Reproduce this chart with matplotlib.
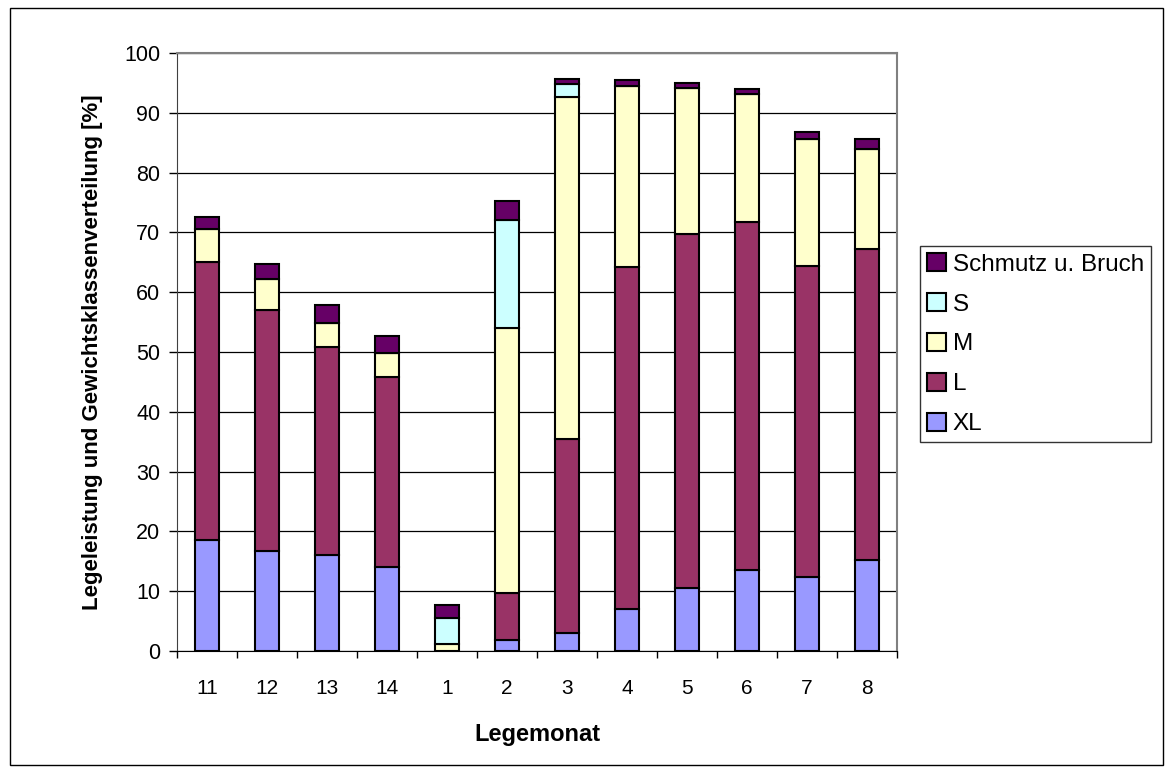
import numpy as np
import matplotlib.pyplot as plt
from matplotlib.patches import Rectangle

plt.rcParams['font.family'] = ['Liberation Sans', 'DejaVu Sans']

# Legemonat
months = ['11', '12', '13', '14', '1', '2', '3', '4', '5', '6', '7', '8']

# cumulative tops, converted to segment heights below
xl_top = [18.6, 16.8, 16.1, 14.1, 0.0, 1.9, 3.0, 7.0, 10.5, 13.5, 12.4, 15.2]
l_top = [65.0, 57.0, 50.8, 45.8, 0.0, 9.7, 35.5, 64.2, 69.7, 71.7, 64.3, 67.2]
m_top = [70.5, 62.2, 54.9, 49.8, 1.1, 54.0, 92.7, 94.5, 94.2, 93.1, 85.6, 83.9]
s_top = [70.5, 62.2, 54.9, 49.8, 5.6, 72.0, 94.8, 94.5, 94.2, 93.1, 85.6, 83.9]
total = [72.6, 64.7, 57.9, 52.6, 7.7, 75.3, 95.6, 95.5, 95.0, 94.0, 86.8, 85.6]

xl = np.array(xl_top)
l = np.array(l_top) - np.array(xl_top)
m = np.array(m_top) - np.array(l_top)
s = np.array(s_top) - np.array(m_top)
dirt = np.array(total) - np.array(s_top)

series = [('XL', xl, '#9999FF'),
          ('L', l, '#993366'),
          ('M', m, '#FFFFCC'),
          ('S', s, '#CCFFFF'),
          ('Schmutz u. Bruch', dirt, '#660066')]

fig = plt.figure(figsize=(11.73, 7.73), dpi=100)
ax = fig.add_axes([177/1173, 1-651/773, 720/1173, 598/773])

x = np.arange(len(months))
bottom = np.zeros(len(months))
handles = []
for name, vals, col in series:
    b = ax.bar(x, vals, 0.4, bottom=bottom, color=col, edgecolor='black',
               linewidth=1.5, label=name, zorder=3)
    handles.append(b)
    bottom = bottom + vals

ax.set_xlim(-0.5, len(months) - 0.5)
ax.set_ylim(0, 100)
ax.set_yticks(np.arange(0, 101, 10))
ax.yaxis.grid(True, color='black', linewidth=0.9, zorder=0)
ax.set_xticks(x)
ax.set_xticklabels(months, fontsize=15)
ax.set_xticks(np.arange(-0.5, len(months)), minor=True)
ax.tick_params(axis='x', which='major', length=0, pad=20)
ax.tick_params(axis='x', which='minor', length=5, width=1, color='black')
ax.tick_params(axis='y', labelsize=15.5, length=6, width=1, pad=6)

for side in ['top', 'right']:
    ax.spines[side].set_color('#808080')
    ax.spines[side].set_linewidth(1.5)
ax.spines['left'].set_color('#404040')
ax.spines['bottom'].set_color('black')

ax.set_xlabel('Legemonat', fontsize=17, fontweight='bold', labelpad=18)
ax.set_ylabel('Legeleistung und Gewichtsklassenverteilung [%]', fontsize=16,
              fontweight='bold', labelpad=15)

leg = fig.legend(handles[::-1], [sr[0] for sr in series][::-1],
                 loc='upper left', bbox_to_anchor=(920/1173, 1-246/773),
                 fontsize=17.5, frameon=True, fancybox=False, edgecolor='black',
                 handlelength=0.75, handleheight=0.75, handletextpad=0.3,
                 labelspacing=0.72, borderpad=0.3, borderaxespad=0)
leg.get_frame().set_linewidth(1)

fig.patches.append(Rectangle((10/1173, 8/773), 1 - 20/1173, 1 - 16/773,
                             transform=fig.transFigure, fill=False,
                             edgecolor='black', linewidth=1))

fig.savefig('out.png', dpi=100)
